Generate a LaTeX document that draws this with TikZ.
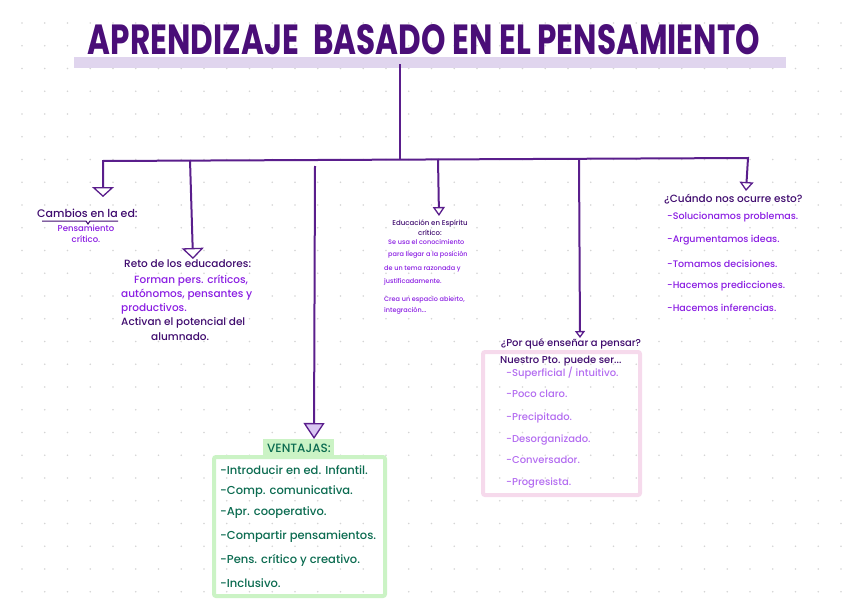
\documentclass[tikz,border=0pt]{standalone}
\usepackage{fontspec}
\setmainfont{Poppins}[UprightFont={* Medium},BoldFont={* Bold}]
\usetikzlibrary{arrows.meta}
\definecolor{titlecol}{HTML}{4A0E78}
\definecolor{linecol}{HTML}{5A1E8C}
\definecolor{darkcol}{HTML}{3F0B6E}
\definecolor{brightcol}{HTML}{8A1DE2}
\definecolor{lightcol}{HTML}{B36CF0}
\definecolor{greencol}{HTML}{0B6B50}
\definecolor{greenbox}{HTML}{CBF3C5}
\definecolor{pinkbox}{HTML}{F6DAEC}
\definecolor{markcol}{HTML}{E0D5EE}
\definecolor{lavcol}{HTML}{D9C6F2}
\definecolor{dotcol}{HTML}{D4D4D4}
\begin{document}
\begin{tikzpicture}[x=1pt,y=-1pt,
    bar/.style={linecol,line width=2pt},
    txt/.style={inner sep=0pt,font=\fontsize{#1}{#1}\selectfont},
    item/.style={inner sep=0pt,anchor=west,font=\fontsize{#1}{#1}\selectfont}]
    \useasboundingbox (0,0) rectangle (848,599);
    % dotted paper
    \foreach \gx in {0,...,36}
        \foreach \gy in {0,...,25}
            \fill[dotcol] (22+\gx*22.75,23+\gy*22.75) circle (0.9pt);
    % title
    \fill[markcol] (74,57) rectangle (786,68);
    \node[inner sep=0pt,titlecol] (title) at (424,40)
        {\resizebox{672pt}{30pt}{\bfseries APRENDIZAJE\hspace{0.25em} BASADO EN EL PENSAMIENTO}};
    % tree
    \coordinate (hub) at (400,159);
    \coordinate (b1) at (103,161);
    \coordinate (b2) at (190,160);
    \coordinate (b3) at (315,166);
    \coordinate (b4) at (438,159);
    \coordinate (b5) at (579,159);
    \coordinate (b6) at (748,158);
    \coordinate (t1) at (103,197);
    \coordinate (t2) at (193,259);
    \coordinate (t3) at (314,439);
    \coordinate (t4) at (439,216);
    \coordinate (t5) at (580,338);
    \coordinate (t6) at (746,191);
    \draw[bar,shorten <=9pt] (title.south -| hub) -- (hub);
    \draw[bar,{Triangle[open,width=22pt,length=10pt,line width=1.3pt]}-{Triangle[open,width=14pt,length=9pt,line width=1.3pt]}]
        (t1) -- (b1) -- (b6) -- (t6);
    \draw[bar,-{Triangle[open,width=22pt,length=11pt,line width=1.3pt]}] (b2) -- (t2);
    \draw[bar,-{Triangle[fill=lavcol,width=21pt,length=16pt,line width=1.3pt]}] (b3) -- (t3);
    \draw[bar,-{Triangle[open,width=12pt,length=9pt,line width=1.3pt]}] (b4) -- (t4);
    \draw[bar,-{Triangle[open,width=10pt,length=7pt,line width=1.3pt]}] (b5) -- (t5);
    % cambios
    \node[txt=11,darkcol,anchor=west] (cambios) at (37,213) {Cambios en la ed:};
    \draw[darkcol,line width=1pt] (42,221) -- (86,221) -- (88,224) -- (90,221) -- (118,221);
    \node[txt=8.5,brightcol,align=center] (pensam) at (86,234) {Pensamiento\\[3pt]crítico.};
    % reto
    \node[txt=10.5,align=left,anchor=north west] (reto) at (121,260)
        {\hspace*{3pt}\textcolor{darkcol}{Reto de los educadores:}\\[5.5pt]
         \hspace*{13pt}\textcolor{brightcol}{Forman pers. críticos,}\\[1.5pt]
         \textcolor{brightcol}{autónomos, pensantes y}\\[1.5pt]
         \textcolor{brightcol}{productivos.}\\[2.5pt]
         \textcolor{darkcol}{Activan el potencial del}\\[3.5pt]
         \hspace*{30pt}\textcolor{darkcol}{alumnado.}};
    % educacion
    \node[txt=7,darkcol,align=center] (educ) at (430,228) {Educación en Espíritu\\[2pt]crítico:};
    \node[txt=6.5,brightcol,align=left,anchor=north west] (eductxt) at (384,239)
        {\hspace*{4pt}Se usa el conocimiento\\[6pt]
         \hspace*{4pt}para llegar a la posición\\[6pt]
         de un tema razonada y\\[6pt]
         justificadamente.\\[10pt]
         Crea un espacio abierto,\\[3pt]
         integración...};
    % por que
    \draw[pinkbox,line width=4pt,rounded corners=2pt] (483,352) rectangle (640,495);
    \node[txt=10,darkcol] (porque) at (571,344) {¿Por qué enseñar a pensar?};
    \node[item=10,darkcol] (nuestro) at (500,361) {Nuestro Pto. puede ser...};
    \foreach \t/\y [count=\i] in {{-Superficial / intuitivo.}/373,{-Poco claro.}/394,{-Precipitado.}/418,
            {-Desorganizado.}/440,{-Conversador.}/460,{-Progresista.}/483}
        \node[item=10,lightcol] (pto\i) at (506,\y) {\t};
    % cuando
    \node[item=10.5,darkcol] (cuando) at (664,199) {¿Cuándo nos ocurre esto?};
    \foreach \t/\y [count=\i] in {{-Solucionamos problemas.}/217,{-Argumentamos ideas.}/240,
            {-Tomamos decisiones.}/264,{-Hacemos predicciones.}/286,{-Hacemos inferencias.}/308}
        \node[item=9.5,brightcol] (cuando\i) at (667,\y) {\t};
    % ventajas
    \draw[greenbox,line width=4pt,rounded corners=2pt] (214,457) rectangle (385,596);
    \fill[greenbox] (263,439) rectangle (334,457);
    \node[txt=12,greencol] (ventajas) at (299,448) {VENTAJAS:};
    \foreach \t/\y [count=\i] in {{-Introducir en ed. Infantil.}/470,{-Comp. comunicativa.}/492,
            {-Apr. cooperativo.}/513,{-Compartir pensamientos.}/537,
            {-Pens. crítico y creativo.}/560,{-Inclusivo.}/583}
        \node[item=11.5,greencol] (vent\i) at (220,\y) {\t};
\end{tikzpicture}
\end{document}
